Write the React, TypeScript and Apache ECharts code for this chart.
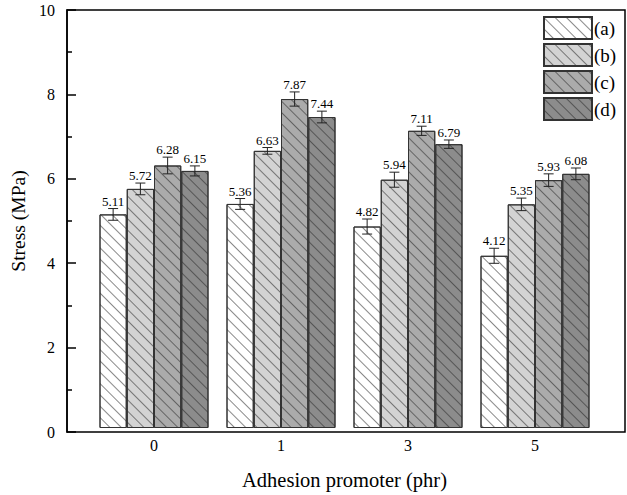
import React, { useEffect, useRef } from "react";
import * as echarts from "echarts";

const categories = ["0", "1", "3", "5"];
const seriesNames = ["(a)", "(b)", "(c)", "(d)"];
const valuesA = [5.11, 5.36, 4.82, 4.12];
const valuesB = [5.72, 6.63, 5.94, 5.35];
const valuesC = [6.28, 7.87, 7.11, 5.93];
const valuesD = [6.15, 7.44, 6.79, 6.08];
const errorsA = [0.14, 0.13, 0.18, 0.18];
const errorsB = [0.14, 0.08, 0.18, 0.15];
const errorsC = [0.2, 0.17, 0.11, 0.15];
const errorsD = [0.12, 0.14, 0.1, 0.14];
const yTicks = [0, 2, 4, 6, 8, 10];

const allValues = [valuesA, valuesB, valuesC, valuesD];
const allErrors = [errorsA, errorsB, errorsC, errorsD];
const fills = ["#ffffff", "#d3d3d3", "#ababab", "#8c8c8c"];

const FONT = "'Liberation Serif', 'DejaVu Serif', serif";
const BAR_W = 27.25;

export default function App() {
  const ref = useRef<HTMLDivElement>(null);
  useEffect(() => {
    document.body.style.margin = "0";
    const chart = echarts.init(ref.current!, null, { renderer: "svg" });
    const decal = {
      symbol: "rect",
      dashArrayX: [1, 0],
      dashArrayY: [1, 7],
      rotation: Math.PI / 4,
      color: "rgba(40,40,40,0.55)",
    };
    const barSeries = seriesNames.map((name, i) => ({
      name,
      type: "bar",
      xAxisIndex: 1,
      yAxisIndex: 1,
      barWidth: BAR_W,
      barGap: "0%",
      data: allValues[i],
      itemStyle: {
        color: fills[i],
        borderColor: "#333",
        borderWidth: 1,
        decal,
      },
    }));
    const errData: any[] = [];
    allValues.forEach((vals, s) =>
      vals.forEach((v, c) => errData.push([c, v, allErrors[s][c], s]))
    );
    const errSeries = {
      name: "err",
      type: "custom",
      xAxisIndex: 1,
      yAxisIndex: 1,
      z: 5,
      itemStyle: { color: "#000" },
      encode: { x: 0, y: 1 },
      data: errData,
      renderItem: (params: any, api: any) => {
        const c = api.value(0);
        const v = api.value(1);
        const e = api.value(2);
        const s = api.value(3);
        const cx = api.coord([c, v])[0] + (s - 1.5) * BAR_W;
        const yTop = api.coord([c, v + e])[1];
        const yBot = api.coord([c, v - e])[1];
        const cap = 5;
        const ls = { stroke: "#222", lineWidth: 1 };
        return {
          type: "group",
          children: [
            { type: "line", shape: { x1: cx, y1: yTop, x2: cx, y2: yBot }, style: ls },
            { type: "line", shape: { x1: cx - cap, y1: yTop, x2: cx + cap, y2: yTop }, style: ls },
            { type: "line", shape: { x1: cx - cap, y1: yBot, x2: cx + cap, y2: yBot }, style: ls },
            {
              type: "text",
              style: {
                text: v.toFixed(2),
                x: cx,
                y: yTop - 1,
                align: "center",
                verticalAlign: "bottom",
                fontSize: 13,
                fontFamily: FONT,
                fill: "#000",
                stroke: "none",
                lineWidth: 0,
              },
            },
          ],
        };
      },
    };
    chart.setOption({
      animation: false,
      backgroundColor: "#fff",
      textStyle: { fontFamily: FONT },
      legend: {
        data: seriesNames,
        orient: "vertical",
        left: 543,
        top: 16,
        padding: 0,
        icon: "rect",
        itemWidth: 48,
        itemHeight: 22,
        itemGap: 3,
        textStyle: { fontSize: 19, fontFamily: FONT, color: "#000", padding: [0, 0, 0, -3] },
      },
      grid: [
        { left: 65, right: 2, top: 10, bottom: 63, show: true, borderColor: "#000", borderWidth: 1.5, backgroundColor: "transparent" },
        { left: 90.5, right: 28.5, top: 10, bottom: 63 },
      ],
      xAxis: [
        { type: "value", gridIndex: 0, show: false, min: 0, max: 1 },
        {
          type: "category",
          gridIndex: 1,
          data: categories,
          axisLine: { show: false },
          axisTick: { show: false },
          axisLabel: { fontSize: 16, color: "#000", fontFamily: FONT, margin: 9 },
          name: "Adhesion promoter (phr)",
          nameLocation: "middle",
          nameGap: 41,
          nameTextStyle: { fontSize: 20.5, color: "#000", fontFamily: FONT },
        },
      ],
      yAxis: [
        {
          type: "value",
          gridIndex: 0,
          min: 0,
          max: 10,
          interval: 2,
          axisLine: { show: true, lineStyle: { color: "#000", width: 1.5 } },
          axisTick: { show: true, inside: true, length: 9, lineStyle: { color: "#000", width: 1.5 } },
          minorTick: { show: true, splitNumber: 2, length: 5, lineStyle: { color: "#000", width: 1.5 } },
          splitLine: { show: false },
          axisLabel: {
            fontSize: 16,
            color: "#000",
            fontFamily: FONT,
            margin: 12,
            formatter: (v: number) => (yTicks.includes(v) ? String(v) : ""),
          },
          name: "Stress (MPa)",
          nameLocation: "middle",
          nameGap: 39,
          nameTextStyle: { fontSize: 19.5, color: "#000", fontFamily: FONT },
        },
        { type: "value", gridIndex: 1, min: 0, max: 10, show: false, splitLine: { show: false } },
      ],
      series: [...barSeries, errSeries],
    });
    return () => chart.dispose();
  }, []);
  return <div ref={ref} style={{ width: 627, height: 495 }} />;
}
